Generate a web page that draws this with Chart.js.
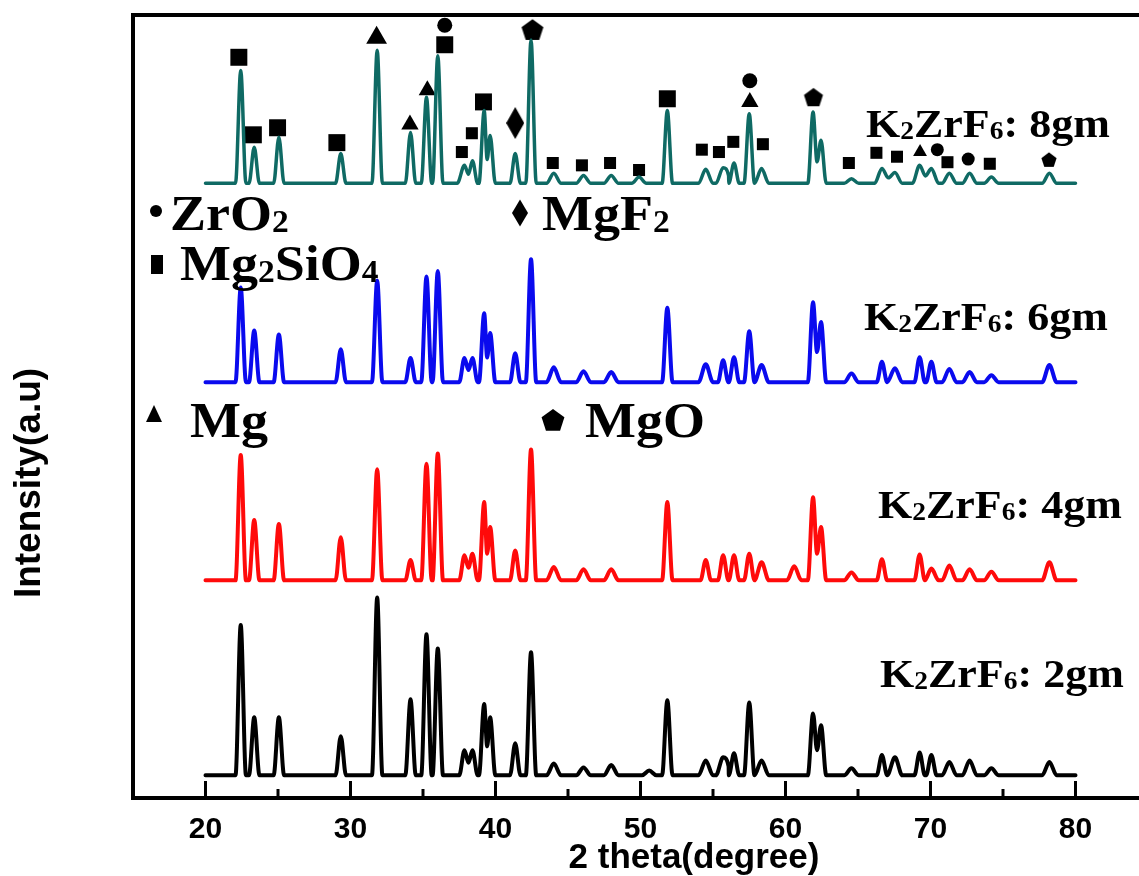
<!DOCTYPE html>
<html>
<head>
<meta charset="utf-8">
<script src="https://cdn.jsdelivr.net/npm/chart.js@4.4.0/dist/chart.umd.min.js"></script>
<style>
  html, body { margin: 0; padding: 0; background: #fff; overflow: hidden; }
  #wrap { position: relative; width: 1160px; height: 876px; }
</style>
</head>
<body>
<div id="wrap"><canvas id="xrdChart"></canvas></div>
<script>
// ---- data ----
const xTicks = [20, 30, 40, 50, 60, 70, 80];
const xMinorTicks = [25, 35, 45, 55, 65, 75];

const sampleNames = ['2gm', '4gm', '6gm', '8gm'];
const sampleColors = ['#000000', '#ff0a0a', '#0a0aee', '#0f6a64'];
const baselines = [2.9, 27.8, 53.1, 78.5];

// 2 theta of the reflections (shared by all samples)
const peakTheta = [22.43, 23.36, 25.06, 29.33, 31.84, 34.14, 35.24, 36.02, 37.86, 38.41,
  39.22, 39.63, 41.36, 42.45, 44.02, 46.07, 47.98, 49.9, 50.6, 51.85,
  54.5, 55.7, 56.45, 57.5, 58.35, 60.6, 61.9, 62.45, 64.55, 66.65,
  67.55, 69.25, 70.06, 71.3, 72.7, 74.2, 78.2];

// peak height above each baseline (a.u.)
const peaks2gm = [19.2, 7.4, 7.4, 5.0, 22.7, 9.7, 18.0, 16.2, 3.2, 3.2,
  9.1, 7.4, 4.1, 15.7, 1.5, 1.0, 1.3, 0, 0.6, 9.6,
  1.9, 2.3, 2.8, 9.3, 1.9, 0, 7.9, 6.4, 0.9, 2.6,
  2.3, 2.9, 2.6, 1.7, 1.9, 0.9, 1.7];
const peaks4gm = [16.0, 7.7, 7.2, 5.5, 14.2, 2.6, 14.9, 16.2, 3.2, 3.4,
  10.0, 6.8, 3.8, 16.7, 1.7, 1.4, 1.4, 0, 0, 10.0,
  2.6, 3.2, 3.2, 3.4, 2.3, 1.8, 10.6, 6.8, 1.0, 2.7,
  0, 3.3, 1.5, 1.9, 1.4, 1.1, 2.3];
const peaks6gm = [12.1, 6.6, 6.1, 4.2, 13.0, 3.1, 13.5, 14.2, 3.1, 3.1,
  8.8, 6.3, 3.7, 15.7, 1.9, 1.4, 1.3, 0, 0, 9.5,
  2.3, 2.8, 3.2, 6.5, 2.2, 0, 10.2, 7.7, 1.1, 2.6,
  1.8, 3.2, 2.6, 1.7, 1.3, 0.9, 2.2];
const peaks8gm = [14.4, 4.6, 5.9, 3.8, 17.0, 6.5, 11.0, 16.3, 2.3, 2.9,
  9.3, 6.1, 3.8, 18.3, 1.3, 1.0, 1.0, 0.8, 0, 9.3,
  1.8, 2.0, 2.6, 8.9, 1.9, 0, 9.1, 5.5, 0.6, 1.9,
  1.4, 2.3, 1.9, 1.3, 1.3, 0.8, 1.3];

// phase markers on the 8gm pattern
const mg2sio4MajorTheta = [22.3, 23.3, 24.97, 29.06, 36.5, 39.17, 51.85];
const mg2sio4MajorLevel = [94.6, 84.7, 85.6, 83.7, 96.2, 88.9, 89.3];
const mg2sio4MinorTheta = [37.68, 38.37, 43.95, 45.96, 47.9, 49.9, 54.23, 55.41, 56.4, 58.44,
  64.37, 66.27, 67.69, 71.17, 74.09];
const mg2sio4MinorLevel = [82.5, 84.9, 81.1, 80.8, 81.1, 80.2, 82.8, 82.5, 83.8, 83.5,
  81.1, 82.4, 81.9, 81.2, 81.0];
const mgTheta = [31.8, 34.1, 35.3, 57.54, 69.28];
const mgLevel = [97.1, 86.0, 90.4, 88.9, 82.5];
const zro2Theta = [36.5, 57.54, 70.47, 72.6];
const zro2Level = [98.7, 91.6, 82.8, 81.6];
const mgoTheta = [42.55, 61.93, 78.17];
const mgoLevel = [98.1, 89.5, 81.5];
const mgf2Theta = [41.36];
const mgf2Level = [86.2];

const sampleHeights = [peaks2gm, peaks4gm, peaks6gm, peaks8gm];

// ---- helpers ----
function buildTrace(base, heights) {
  const pts = [{ x: xTicks[0], y: base }];
  const active = peakTheta.map((t, i) => ({ t, h: heights[i] })).filter(p => p.h > 0);
  active.forEach((p, i) => {
    const hw = p.h < 2.5 ? 0.5 : 0.36;
    const prev = active[i - 1], next = active[i + 1];
    if (!prev || p.t - prev.t >= 2 * hw) pts.push({ x: p.t - hw, y: base });
    pts.push({ x: p.t, y: base + p.h });
    if (next && next.t - p.t < 2 * hw) {
      pts.push({ x: (p.t + next.t) / 2, y: base + Math.min(p.h, next.h) / 2 });
    } else {
      pts.push({ x: p.t + hw, y: base });
    }
  });
  pts.push({ x: xTicks[xTicks.length - 1], y: base });
  return pts;
}

function pairs(xs, ys) { return xs.map((x, i) => ({ x, y: ys[i] })); }

function pentagonPath(ctx, cx, cy, r) {
  ctx.beginPath();
  for (let k = 0; k < 5; k++) {
    const a = -Math.PI / 2 + k * 2 * Math.PI / 5;
    const px = cx + r * Math.cos(a), py = cy + r * Math.sin(a);
    k ? ctx.lineTo(px, py) : ctx.moveTo(px, py);
  }
  ctx.closePath();
}
function diamondPath(ctx, cx, cy, w, h) {
  ctx.beginPath();
  ctx.moveTo(cx, cy - h / 2);
  ctx.lineTo(cx + w / 2, cy);
  ctx.lineTo(cx, cy + h / 2);
  ctx.lineTo(cx - w / 2, cy);
  ctx.closePath();
}
function shapeCanvas(w, h, draw) {
  const c = document.createElement('canvas');
  c.width = w; c.height = h;
  const g = c.getContext('2d');
  g.fillStyle = '#000';
  draw(g);
  return c;
}
const pentBig = shapeCanvas(24, 24, g => { pentagonPath(g, 12, 12.8, 11.5); g.fill(); });
const pentMid = shapeCanvas(22, 22, g => { pentagonPath(g, 11, 11.8, 10); g.fill(); });
const pentSmall = shapeCanvas(18, 18, g => { pentagonPath(g, 9, 9.6, 8); g.fill(); });
const diamondImg = shapeCanvas(18, 32, g => { diamondPath(g, 9, 16, 18, 32); g.fill(); });

function richText(ctx, parts, x, y, size, sx) {
  ctx.save();
  ctx.translate(x, y);
  ctx.scale(sx, 1);
  ctx.textAlign = 'left';
  ctx.textBaseline = 'alphabetic';
  let cx = 0;
  parts.forEach(([s, sub]) => {
    const fs = sub ? Math.round(size * 0.62) : size;
    ctx.font = 'bold ' + fs + 'px "Liberation Serif", "Times New Roman", serif';
    ctx.fillText(s, cx, sub ? size * 0.04 : 0);
    cx += ctx.measureText(s).width;
  });
  ctx.restore();
}

// frame, inward ticks, titles and text annotations
const decorPlugin = {
  id: 'decor',
  afterDatasetsDraw(chart) {
    const { ctx, chartArea: a } = chart;
    const xs = chart.scales.x;
    ctx.save();
    ctx.strokeStyle = '#000';
    ctx.lineWidth = 3;
    xTicks.forEach(v => {
      const px = xs.getPixelForValue(v);
      ctx.beginPath(); ctx.moveTo(px, a.bottom); ctx.lineTo(px, a.bottom - 17); ctx.stroke();
    });
    xMinorTicks.forEach(v => {
      const px = xs.getPixelForValue(v);
      ctx.beginPath(); ctx.moveTo(px, a.bottom); ctx.lineTo(px, a.bottom - 9); ctx.stroke();
    });
    ctx.lineWidth = 4;
    ctx.strokeRect(a.left, a.top, a.right - a.left, a.bottom - a.top);
    ctx.restore();
  },
  afterDraw(chart) {
    const { ctx } = chart;
    ctx.save();
    ctx.fillStyle = '#000';
    // axis titles
    ctx.font = 'bold 35px "Liberation Sans", Arial, sans-serif';
    ctx.textAlign = 'center';
    ctx.textBaseline = 'alphabetic';
    ctx.fillText('2 theta(degree)', 694, 868);
    ctx.save();
    ctx.translate(40, 483);
    ctx.rotate(-Math.PI / 2);
    ctx.font = 'bold 37px "Liberation Sans", Arial, sans-serif';
    ctx.fillText('Intensity(a.u)', 0, 0);
    ctx.restore();

    // sample labels
    const labelSpots = [[880, 687], [878, 518], [864, 330], [866, 137]];
    sampleNames.forEach((n, i) => {
      richText(ctx, [['K', 0], ['2', 1], ['ZrF', 0], ['6', 1], [': ' + n, 0]],
        labelSpots[i][0], labelSpots[i][1], 40, 1.1);
    });

    // phase key
    ctx.beginPath(); ctx.arc(156, 211, 6, 0, Math.PI * 2); ctx.fill();
    richText(ctx, [['ZrO', 0], ['2', 1]], 170, 230, 50, 1.08);
    diamondPath(ctx, 520, 213, 16, 27); ctx.fill();
    richText(ctx, [['MgF', 0], ['2', 1]], 542, 230, 50, 1.08);
    ctx.fillRect(151, 255, 12, 19);
    richText(ctx, [['Mg', 0], ['2', 1], ['SiO', 0], ['4', 1]], 180, 280, 50, 1.08);
    ctx.beginPath(); ctx.moveTo(154, 405); ctx.lineTo(162, 422); ctx.lineTo(146, 422); ctx.closePath(); ctx.fill();
    richText(ctx, [['Mg', 0]], 190, 437, 50, 1.08);
    pentagonPath(ctx, 553, 421, 12); ctx.fill();
    richText(ctx, [['MgO', 0]], 585, 437, 50, 1.08);
    ctx.restore();
  }
};

// ---- chart ----
const traceSets = sampleNames.map((n, i) => ({
  label: 'K2ZrF6: ' + n,
  data: buildTrace(baselines[i], sampleHeights[i]),
  borderColor: sampleColors[i],
  borderWidth: i === 3 ? 3.5 : 4,
  pointRadius: 0,
  cubicInterpolationMode: 'monotone',
  borderJoinStyle: 'round',
  borderCapStyle: 'round',
  fill: false
}));

const markerBase = { showLine: false, backgroundColor: '#000', borderColor: '#000', borderWidth: 0 };
const markerSets = [
  { ...markerBase, label: 'Mg2SiO4', data: pairs(mg2sio4MajorTheta, mg2sio4MajorLevel), pointStyle: 'rect', pointRadius: 12 },
  { ...markerBase, label: 'Mg2SiO4 minor', data: pairs(mg2sio4MinorTheta, mg2sio4MinorLevel), pointStyle: 'rect', pointRadius: 8.5 },
  { ...markerBase, label: 'Mg', data: pairs(mgTheta, mgLevel), pointStyle: 'triangle',
    pointRadius: c => (c.raw && c.raw.y > 95) ? 12 : (c.raw && c.raw.y > 85 ? 10 : 8) },
  { ...markerBase, label: 'ZrO2', data: pairs(zro2Theta, zro2Level), pointStyle: 'circle',
    pointRadius: c => (c.raw && c.raw.y > 85) ? 7.5 : 6.5 },
  { ...markerBase, label: 'MgO', data: pairs(mgoTheta, mgoLevel),
    pointStyle: c => (c.raw && c.raw.y > 95) ? pentBig : (c.raw && c.raw.y > 85 ? pentMid : pentSmall) },
  { ...markerBase, label: 'MgF2', data: pairs(mgf2Theta, mgf2Level), pointStyle: diamondImg }
];

new Chart(document.getElementById('xrdChart'), {
  type: 'line',
  data: { datasets: [...traceSets, ...markerSets] },
  options: {
    responsive: true,
    maintainAspectRatio: false,
    animation: false,
    layout: { padding: { left: 133, top: 15, right: 12, bottom: 0 } },
    plugins: { legend: { display: false }, tooltip: { enabled: false } },
    scales: {
      x: {
        type: 'linear',
        min: 15,
        max: 85,
        afterBuildTicks: s => { s.ticks = xTicks.map(v => ({ value: v })); },
        afterFit: s => { s.height = 78; },
        grid: { display: false, drawTicks: false },
        border: { display: false },
        ticks: {
          color: '#000',
          padding: 14,
          maxRotation: 0,
          autoSkip: false,
          font: { family: '"Liberation Sans", Arial, sans-serif', size: 30, weight: 'bold' }
        }
      },
      y: { type: 'linear', min: 0, max: 100, display: false }
    }
  },
  plugins: [decorPlugin]
});
</script>
</body>
</html>
